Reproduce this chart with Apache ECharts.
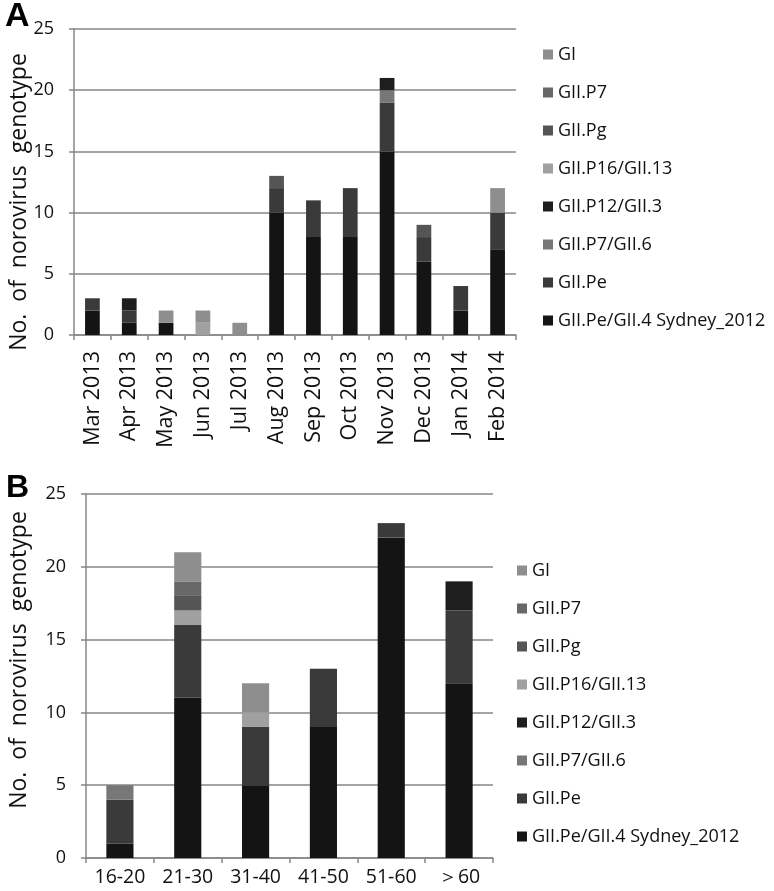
<!DOCTYPE html>
<html>
<head>
<meta charset="utf-8">
<script src="https://cdn.jsdelivr.net/npm/echarts@6/dist/echarts.min.js"></script>
<style>
html,body{margin:0;padding:0;background:#fff;}
#c{width:774px;height:891px;}
</style>
</head>
<body>
<div id="c"></div>
<script>
// ---- Data ----
const monthsA = ['Mar 2013','Apr 2013','May 2013','Jun 2013','Jul 2013','Aug 2013','Sep 2013','Oct 2013','Nov 2013','Dec 2013','Jan 2014','Feb 2014'];
const ageB = ['16-20','21-30','31-40','41-50','51-60','\uFF1E60'];
const yTicks = [0,5,10,15,20,25];
const yTitle = 'No.  of  norovirus  genotype';

// series names (stack order bottom -> top)
const genotypes = ['GII.Pe/GII.4 Sydney_2012','GII.Pe','GII.P7/GII.6','GII.P12/GII.3','GII.P16/GII.13','GII.Pg','GII.P7','GI'];
const colors = ['#141414','#3a3a3a','#777777','#1e1e1e','#a0a0a0','#555555','#686868','#8e8e8e'];

// Panel A values (per month)
const A_sydney = [2,1,1,0,0,10,8,8,15,6,2,7];
const A_pe     = [1,1,0,0,0,2,3,4,4,2,2,3];
const A_p7gii6 = [0,0,0,0,0,0,0,0,1,0,0,0];
const A_p12    = [0,1,0,0,0,0,0,0,1,0,0,0];
const A_p16    = [0,0,0,1,0,0,0,0,0,0,0,0];
const A_pg     = [0,0,0,0,0,1,0,0,0,1,0,0];
const A_p7     = [0,0,0,0,0,0,0,0,0,0,0,0];
const A_gi     = [0,0,1,1,1,0,0,0,0,0,0,2];

// Panel B values (per age group)
const B_sydney = [1,11,5,9,22,12];
const B_pe     = [3,5,4,4,1,5];
const B_p7gii6 = [1,0,0,0,0,0];
const B_p12    = [0,0,0,0,0,2];
const B_p16    = [0,1,1,0,0,0];
const B_pg     = [0,1,0,0,0,0];
const B_p7     = [0,1,0,0,0,0];
const B_gi     = [0,2,2,0,0,0];

const A_vals = [A_sydney,A_pe,A_p7gii6,A_p12,A_p16,A_pg,A_p7,A_gi];
const B_vals = [B_sydney,B_pe,B_p7gii6,B_p12,B_p16,B_pg,B_p7,B_gi];

// ---- Chart ----
const FONT = 'Open Sans';
const lineCol = '#878787';
const chart = echarts.init(document.getElementById('c'), null, {renderer:'canvas'});

function yAxis(gridIndex){
  return {
    type:'value', gridIndex, min:0, max:25, interval:5,
    axisLine:{show:true, lineStyle:{color:lineCol, width:1.5}},
    axisTick:{show:true, length:5, lineStyle:{color:lineCol, width:1.5}},
    axisLabel:{fontFamily:FONT, fontSize:18, color:'#111', margin:20,
      formatter: v => yTicks.includes(v) ? String(v) : ''},
    splitLine:{show:true, lineStyle:{color:lineCol, width:1.5}}
  };
}

const series = [];
genotypes.forEach((g,i)=>{
  series.push({name:g, type:'bar', stack:'A', xAxisIndex:0, yAxisIndex:0,
    barWidth:'40%', itemStyle:{color:colors[i]}, data:A_vals[i]});
});
genotypes.forEach((g,i)=>{
  series.push({name:g, type:'bar', stack:'B', xAxisIndex:1, yAxisIndex:1,
    barWidth:'40%', itemStyle:{color:colors[i]}, data:B_vals[i]});
});

const legendData = genotypes.slice().reverse();
const legendCommon = {
  orient:'vertical', icon:'rect', itemWidth:10, itemHeight:10, itemGap:19,
  data:legendData, selectedMode:false,
  textStyle:{fontFamily:FONT, fontSize:18, color:'#111', lineHeight:19}
};

chart.setOption({
  animation:false,
  backgroundColor:'#fff',
  grid:[
    {left:74, top:29, width:442, height:306},
    {left:86, top:494, width:407, height:364}
  ],
  xAxis:[
    {type:'category', gridIndex:0, data:monthsA,
      axisLine:{lineStyle:{color:lineCol, width:1.5}},
      axisTick:{show:true, length:5, lineStyle:{color:lineCol, width:1.5}},
      axisLabel:{rotate:90, fontFamily:FONT, fontSize:21.5, color:'#111', margin:16, interval:0}},
    {type:'category', gridIndex:1, data:ageB,
      axisLine:{lineStyle:{color:lineCol, width:1.5}},
      axisTick:{show:true, length:5, lineStyle:{color:lineCol, width:1.5}},
      axisLabel:{fontFamily:FONT, fontSize:19.5, color:'#111', margin:9, interval:0}}
  ],
  yAxis:[ yAxis(0), yAxis(1) ],
  legend:[
    Object.assign({left:538, top:40}, legendCommon),
    Object.assign({left:512, top:556}, legendCommon)
  ],
  graphic:[
    {type:'text', left:5, top:0, style:{text:'A', font:'bold 34px "Liberation Sans"', fill:'#000'}},
    {type:'text', left:6, top:472, style:{text:'B', font:'bold 32px "Liberation Sans"', fill:'#000'}},
    {type:'text', x:19, y:202, rotation:Math.PI/2,
      style:{text:yTitle, font:'23px "Open Sans"', fill:'#111', align:'center', verticalAlign:'middle'}},
    {type:'text', x:19, y:660, rotation:Math.PI/2,
      style:{text:yTitle, font:'23px "Open Sans"', fill:'#111', align:'center', verticalAlign:'middle'}}
  ],
  series
});
</script>
</body>
</html>
